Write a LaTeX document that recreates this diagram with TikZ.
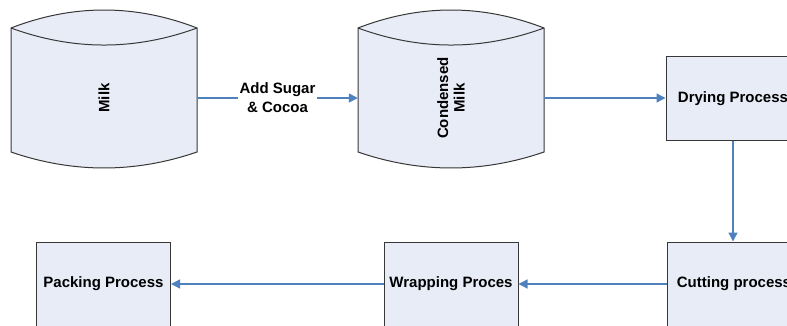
\documentclass[tikz,border=0pt]{standalone}
\usepackage{fontspec}
\setmainfont{Liberation Sans}
\usetikzlibrary{arrows.meta}
\definecolor{boxfill}{RGB}{232,236,247}
\definecolor{boxline}{RGB}{55,55,55}
\definecolor{flow}{RGB}{79,129,189}

% storage tank: left x, right x
\newcommand{\tankshape}[2]{%
  \path[tankbody] (#1,28) .. controls ({#1+62},4) and ({#2-62},4) .. (#2,28)
    -- (#2,152) .. controls ({#2-62},173.3) and ({#1+62},173.3) .. (#1,152) -- cycle;
  \draw[boxline, line width=1pt] (#1,28) .. controls ({#1+62},50.7) and ({#2-62},50.7) .. (#2,28);
}

\begin{document}
\begin{tikzpicture}[x=1pt,y=-1pt,
  lbl/.style={font=\fontsize{15}{18}\selectfont\bfseries, align=center, text=black},
  procbox/.style={draw=boxline, fill=boxfill, line width=1pt, minimum width=134pt,
    minimum height=84pt, inner sep=0pt, lbl},
  anchorbox/.style={minimum width=186pt, minimum height=142pt, inner sep=0pt},
  flowline/.style={draw=flow, line width=1.3pt, -{Triangle[length=9pt,width=9pt]}},
  tankbody/.style={draw=boxline, fill=boxfill, line width=1pt}]
\useasboundingbox (0,0) rectangle (787,325);
\clip (0,0) rectangle (787,325);

% tanks
\tankshape{11}{197}
\tankshape{358}{544}
\node[anchorbox] (milk) at (104,98) {};
\node[lbl, rotate=90] (milktext) at (milk.center) {Milk};
\node[anchorbox] (cmilk) at (451,98) {};
\node[lbl, rotate=90, font=\fontsize{15}{16.5}\selectfont\bfseries] (cmilktext) at (cmilk.center) {Condensed\\Milk};

% process boxes
\node[procbox] (dry) at (733,98.5) {Drying Process};
\node[procbox] (cut) at (734,284) {Cutting process};
\node[procbox] (wrap) at (451,284) {Wrapping Proces};
\node[procbox] (pack) at (103.5,284) {Packing Process};

% flow
\draw[flowline] (milk.east) -- (cmilk.west)
  node[midway, fill=white, lbl, inner sep=1.5pt, font=\fontsize{15}{19}\selectfont\bfseries] (addlbl) {Add Sugar\\\& Cocoa};
\draw[flowline] (cmilk.east) -- (dry.west |- cmilk.east);
\draw[flowline] (dry.south) -- (cut.north -| dry.south);
\draw[flowline] (cut.west) -- (wrap.east);
\draw[flowline] (wrap.west) -- (pack.east);
\end{tikzpicture}
\end{document}
